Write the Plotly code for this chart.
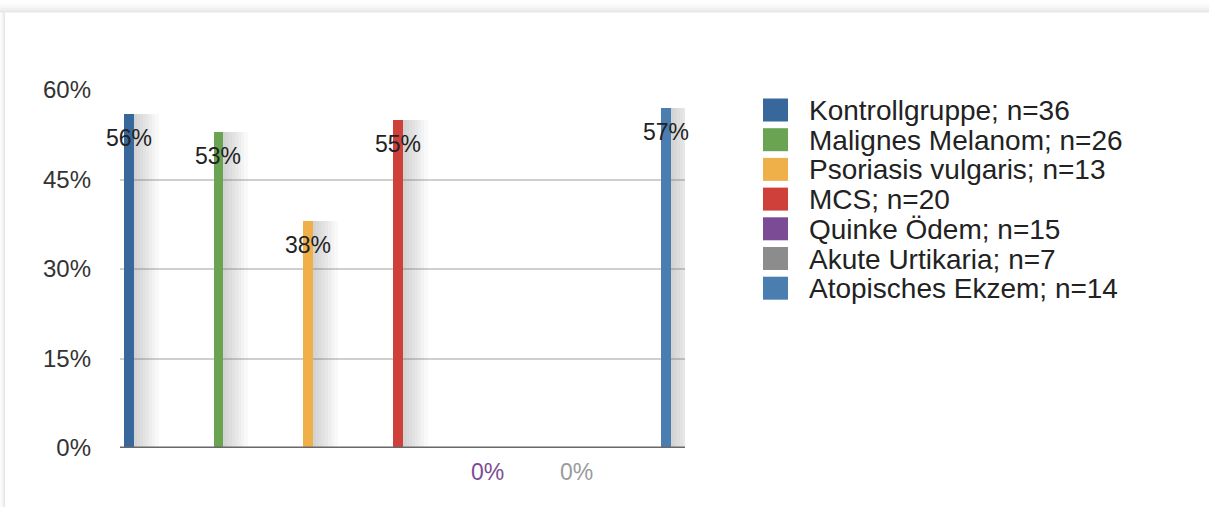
import plotly.graph_objects as go

# Share of positive results per patient group
groups = [
    "Kontrollgruppe; n=36",
    "Malignes Melanom; n=26",
    "Psoriasis vulgaris; n=13",
    "MCS; n=20",
    "Quinke Ödem; n=15",
    "Akute Urtikaria; n=7",
    "Atopisches Ekzem; n=14",
]
percent = [56, 53, 38, 55, 0, 0, 57]
colors = ["#38679b", "#6aa352", "#efb04a", "#cf403b", "#7b4c95", "#8c8c8c", "#4a7eb0"]
label_colors = ["#222222", "#222222", "#222222", "#222222", "#7b4c95", "#9a9a9a", "#222222"]

y_ticks = [0, 15, 30, 45, 60]
y_tick_text = ["0%", "15%", "30%", "45%", "60%"]

positions = list(range(len(groups)))
bar_width = 0.11

FONT = "Liberation Sans, Arial, Helvetica, sans-serif"
W, H = 1209, 507
L, R, T, B = 120, 524, 90, 59
pw, ph = W - L - R, H - T - B
unit_px = pw / 6.31  # pixels per category step


def px_x(p):
    return (p - L) / pw


def px_y(p):
    return (H - B - p) / ph


fig = go.Figure()

# soft drop shadow to the right of each bar (stacked translucent layers)
for r in [8, 11, 14, 17, 20, 23, 26, 30]:
    w = r / unit_px
    fig.add_trace(go.Bar(
        x=[p + w / 2 for p in positions], y=percent, width=w,
        marker=dict(color="rgba(110,110,110,0.042)", line=dict(width=0)),
        showlegend=False, hoverinfo="skip",
    ))

# the bars, one per group, with value labels just below the bar top
for i, g in enumerate(groups):
    fig.add_trace(go.Bar(
        x=[positions[i]], y=[percent[i]], width=bar_width,
        marker=dict(color=colors[i], line=dict(width=0)),
        name=g, showlegend=False,
    ))
    fig.add_annotation(
        x=positions[i], y=percent[i], text=f"{percent[i]}%",
        showarrow=False, yshift=-24, xanchor="center", yanchor="middle",
        font=dict(size=23, color=label_colors[i], family=FONT),
    )

shapes = []
# legend: coloured squares with group names
leg_x0, leg_top, leg_step, sw, sh = 763, 98.5, 29.7, 25, 23
for i, g in enumerate(groups):
    top = leg_top + i * leg_step
    shapes.append(dict(type="rect", xref="paper", yref="paper",
                       x0=px_x(leg_x0), x1=px_x(leg_x0 + sw),
                       y0=px_y(top + sh), y1=px_y(top),
                       line=dict(width=0), fillcolor=colors[i]))
    fig.add_annotation(
        xref="paper", yref="paper", x=px_x(807), y=px_y(top + sh / 2 + 0.5),
        text=g, showarrow=False, xanchor="left", yanchor="middle",
        font=dict(size=28, color="#222222", family=FONT),
    )

# card background with shadow along the top and left edges
for k in range(8):
    a = 0.004 + 0.004 * k
    shapes.append(dict(type="rect", xref="paper", yref="paper",
                       x0=px_x(0), x1=px_x(W), y0=px_y(12.5), y1=px_y(12.5 - 1.5 * (8 - k)),
                       line=dict(width=0), fillcolor=f"rgba(90,90,90,{a})", layer="below"))
for k in range(4):
    a = 0.015 + 0.015 * k
    shapes.append(dict(type="rect", xref="paper", yref="paper",
                       x0=px_x(5 - 1.2 * (4 - k)), x1=px_x(5), y0=px_y(H), y1=px_y(12.5),
                       line=dict(width=0), fillcolor=f"rgba(90,90,90,{a})", layer="below"))
# baseline
shapes.append(dict(type="line", xref="paper", yref="y", x0=0, x1=1, y0=0, y1=0,
                   line=dict(color="#686868", width=3)))

fig.update_layout(
    width=W, height=H,
    margin=dict(l=L, r=R, t=T, b=B),
    paper_bgcolor="white", plot_bgcolor="white",
    barmode="overlay", bargap=0, showlegend=False,
    font=dict(family=FONT, color="#333333"),
    xaxis=dict(range=[-0.1, 6.21], showticklabels=False, showgrid=False,
               zeroline=False, showline=False, ticks=""),
    yaxis=dict(range=[0, 60], tickvals=y_ticks, ticktext=y_tick_text,
               showgrid=True, gridcolor="#cfcfcf", gridwidth=1.5,
               zeroline=False, showline=False, ticks="",
               ticklabelstandoff=28, tickfont=dict(size=24, color="#333333")),
    shapes=shapes,
)

fig.write_html("out.html")
